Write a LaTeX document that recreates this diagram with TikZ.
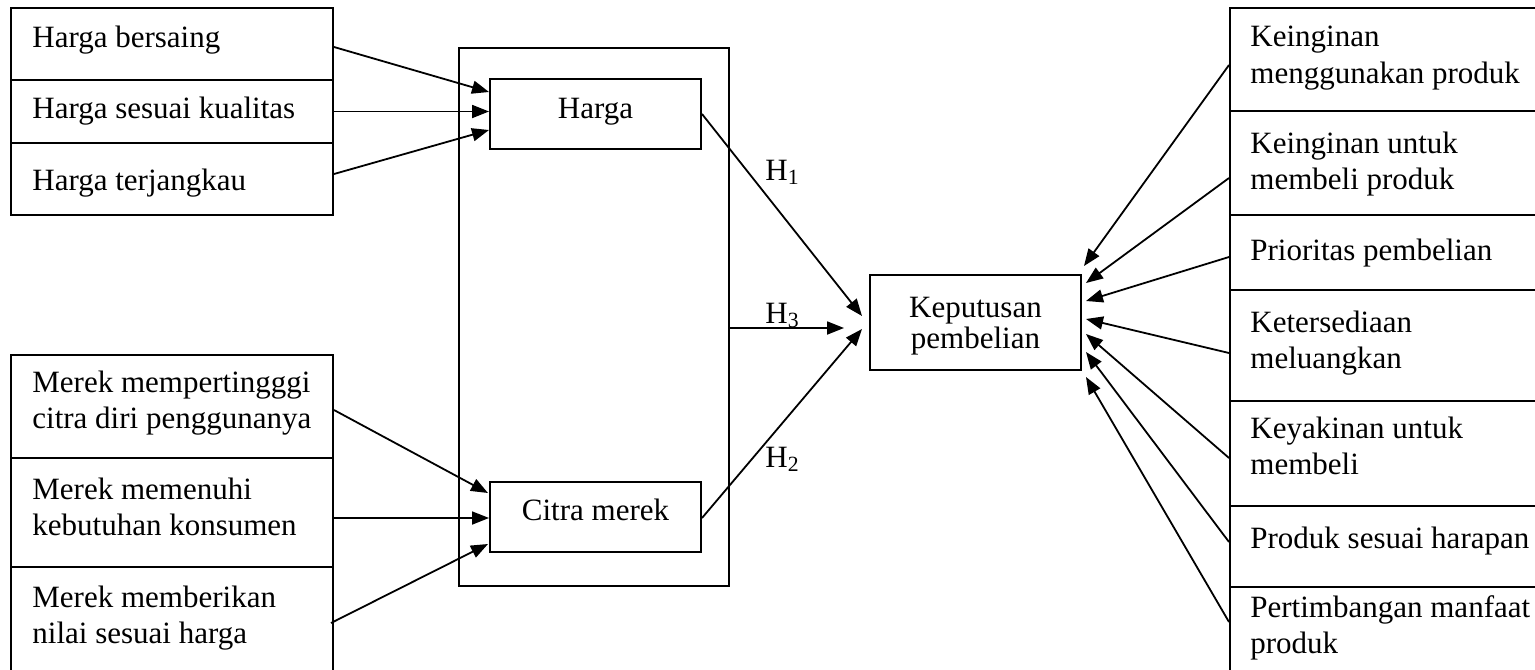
\documentclass[tikz,border=0pt]{standalone}
\usepackage{fontspec}
\setmainfont{Liberation Serif}
\usetikzlibrary{arrows.meta,calc}
\begin{document}
\begin{tikzpicture}[x=0.5pt,y=-0.5pt,
  box/.style={draw, line width=1pt, rectangle, inner sep=0pt},
  lcell/.style={box, minimum width=161pt},
  rcell/.style={box, minimum width=165pt},
  txt/.style={anchor=base west, align=left, inner sep=0pt, font=\fontsize{15.5}{18}\selectfont},
  ctxt/.style={anchor=base, align=center, inner sep=0pt, font=\fontsize{15.5}{15.5}\selectfont},
  arr/.style={line width=0.9pt, -{Triangle[length=8.5pt,width=6.5pt]}}]
\useasboundingbox (0,0) rectangle (1535,669);

% left top cells
\node[lcell, minimum height=36pt] (lt1) at (172,44) {};
\node[lcell, minimum height=31.5pt] (lt2) at (172,111.5) {};
\node[lcell, minimum height=36pt] (lt3) at (172,179) {};
\node[txt] (lt1t) at (32,47) {Harga bersaing};
\node[txt] (lt2t) at (32,118) {Harga sesuai kualitas};
\node[txt] (lt3t) at (32,190) {Harga terjangkau};

% left bottom cells (base anchor = last line)
\node[lcell, minimum height=51.5pt] (lb1) at (172,406.5) {};
\node[lcell, minimum height=54.5pt] (lb2) at (172,512.5) {};
\node[lcell, minimum height=61.5pt] (lb3) at (172,628.5) {};
\node[txt] (lb1t) at (32,428) {Merek mempertingggi\\citra diri penggunanya};
\node[txt] (lb2t) at (32,535) {Merek memenuhi\\kebutuhan konsumen};
\node[txt] (lb3t) at (32,643) {Merek memberikan\\nilai sesuai harga};

% middle
\node[box, minimum width=135pt, minimum height=269pt] (outer) at (594,317) {};
\node[box, minimum width=105.5pt, minimum height=35pt] (harga) at (595.5,114) {};
\node[ctxt] (hargat) at (595.5,118) {Harga};
\node[box, minimum width=105.5pt, minimum height=35pt] (citra) at (595.5,517) {};
\node[ctxt] (citrat) at (595.5,520) {Citra merek};
\node[box, minimum width=105.5pt, minimum height=47.5pt] (kp) at (975.5,322.5) {};
\node[ctxt] (kpt) at (975.5,348) {Keputusan\\pembelian};

% right cells
\node[rcell, minimum height=51.5pt] (r1) at (1395,59.5) {};
\node[rcell, minimum height=52pt] (r2) at (1395,163) {};
\node[rcell, minimum height=37.5pt] (r3) at (1395,252.5) {};
\node[rcell, minimum height=55.5pt] (r4) at (1395,345.5) {};
\node[rcell, minimum height=52.5pt] (r5) at (1395,453.5) {};
\node[rcell, minimum height=40.5pt] (r6) at (1395,546.5) {};
\node[rcell, minimum height=51.5pt] (r7) at (1395,638.5) {};
\node[txt] (r1t) at (1250,83) {Keinginan\\menggunakan produk};
\node[txt] (r2t) at (1250,189) {Keinginan untuk\\membeli produk};
\node[txt] (r3t) at (1250,260) {Prioritas pembelian};
\node[txt] (r4t) at (1250,368) {Ketersediaan\\meluangkan};
\node[txt] (r5t) at (1250,474) {Keyakinan untuk\\membeli};
\node[txt] (r6t) at (1250,548) {Produk sesuai harapan};
\node[txt] (r7t) at (1250,653) {Pertimbangan manfaat\\produk};

% H labels
\node[txt] (h1) at (765,180) {H\textsubscript{1}};
\node[txt] (h3) at (765,323) {H\textsubscript{3}};
\node[txt] (h2) at (765,467) {H\textsubscript{2}};

% left arrows
\draw[arr] ($(lt1.east)+(0,3)$) -- ($(harga.west)+(0,-22)$);
\draw[arr] (lt2.east) -- ($(harga.west)+(0,-2.5)$);
\draw[arr] ($(lt3.east)+(0,-5)$) -- ($(harga.west)+(0,16)$);
\draw[arr] ($(lb1.east)+(0,3.5)$) -- ($(citra.west)+(-1,-24)$);
\draw[arr] ($(lb2.east)+(0,5.5)$) -- ($(citra.west)+(0,1)$);
\draw[arr] ($(lb3.east)+(-3,-5.5)$) -- ($(citra.west)+(-1,27)$);

% hypothesis arrows
\draw[arr] (harga.east) -- ($(kp.north west)+(-7,42)$);
\draw[arr] ($(outer.east)+(0,11)$) -- ($(kp.west)+(-25,5.5)$);
\draw[arr] ($(citra.east)+(0,1)$) -- ($(kp.west)+(-7,6.5)$);

% right arrows
\draw[arr] ($(r1.west)+(0,5.5)$) -- ($(kp.north east)+(2,-8)$);
\draw[arr] ($(r2.west)+(0,15)$) -- ($(kp.north east)+(4,9)$);
\draw[arr] ($(r3.west)+(0,4.5)$) -- ($(kp.north east)+(4,27)$);
\draw[arr] ($(r4.west)+(0,7.5)$) -- ($(kp.north east)+(4,45)$);
\draw[arr] ($(r5.west)+(0,4.5)$) -- ($(kp.north east)+(4,60)$);
\draw[arr] ($(r6.west)+(0,-4.5)$) -- ($(kp.north east)+(4,78)$);
\draw[arr] ($(r7.west)+(0,-16.5)$) -- ($(kp.north east)+(4,103)$);
\end{tikzpicture}
\end{document}
